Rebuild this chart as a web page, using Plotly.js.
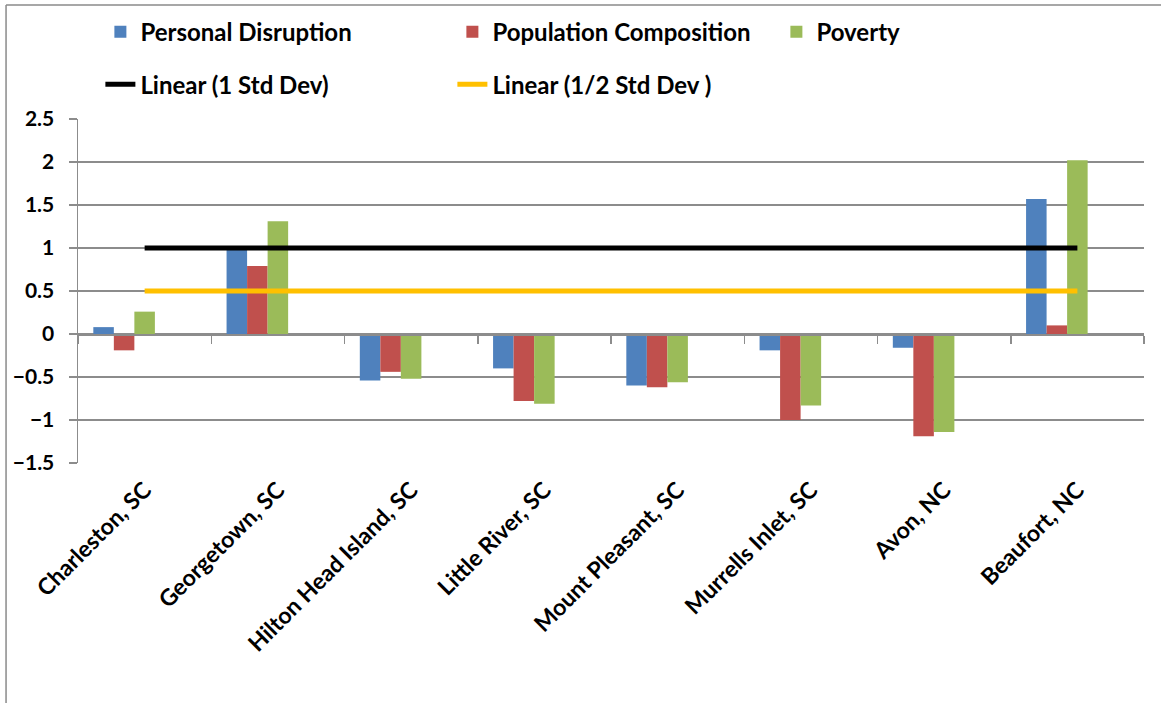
<!DOCTYPE html>
<html>
<head>
<meta charset="utf-8">
<script src="https://cdn.plot.ly/plotly-3.0.1.min.js"></script>
<style>
  html, body { margin: 0; padding: 0; background: #ffffff; }
  #chart { width: 1161px; height: 703px; }
</style>
</head>
<body>
<div id="chart"></div>
<script>
// ---- data ----
const places = ["Charleston, SC", "Georgetown, SC", "Hilton Head Island, SC", "Little River, SC",
                "Mount Pleasant, SC", "Murrells Inlet, SC", "Avon, NC", "Beaufort, NC"];
const personalDisruption    = [0.08, 0.98, -0.54, -0.40, -0.60, -0.19, -0.16, 1.57];
const populationComposition = [-0.19, 0.79, -0.44, -0.78, -0.62, -1.00, -1.19, 0.10];
const poverty               = [0.26, 1.31, -0.52, -0.81, -0.56, -0.83, -1.14, 2.02];
const oneStdDev             = [1, 1, 1, 1, 1, 1, 1, 1];
const halfStdDev            = [0.5, 0.5, 0.5, 0.5, 0.5, 0.5, 0.5, 0.5];
const seriesNames = ["Personal Disruption", "Population Composition", "Poverty",
                     "Linear (1 Std Dev)", "Linear (1/2 Std Dev )"];
const yTicks = [-1.5, -1, -0.5, 0, 0.5, 1, 1.5, 2, 2.5];
const boundaries = [-0.5, 0.5, 1.5, 2.5, 3.5, 4.5, 5.5, 6.5, 7.5];

// ---- styles ----
const FONT = "Lato, 'Open Sans', sans-serif";
const GRID = "#8c8c8c";

const traces = [
  { type: "bar", name: seriesNames[0], x: places, y: personalDisruption,
    marker: { color: "#4F81BD" }, legend: "legend", legendwidth: 307, hoverinfo: "x+y" },
  { type: "bar", name: seriesNames[1], x: places, y: populationComposition,
    marker: { color: "#C0504D" }, legend: "legend", legendwidth: 279, hoverinfo: "x+y" },
  { type: "bar", name: seriesNames[2], x: places, y: poverty,
    marker: { color: "#9BBB59" }, legend: "legend", hoverinfo: "x+y" },
  // the std-dev series are columns without fill in the source chart (they keep their slots)
  { type: "bar", name: "1 Std Dev", x: places, y: oneStdDev,
    marker: { color: "rgba(0,0,0,0)" }, showlegend: false, hoverinfo: "skip" },
  { type: "bar", name: "1/2 Std Dev", x: places, y: halfStdDev,
    marker: { color: "rgba(0,0,0,0)" }, showlegend: false, hoverinfo: "skip" },
  { type: "scatter", mode: "lines", name: seriesNames[3], x: places, y: oneStdDev,
    line: { color: "#000000", width: 5 }, legend: "legend2", legendwidth: 307 },
  { type: "scatter", mode: "lines", name: seriesNames[4], x: places, y: halfStdDev,
    line: { color: "#FFC000", width: 5 }, legend: "legend2" },
  // helper for the category axis drawn at zero
  { type: "scatter", mode: "none", x: [boundaries[0], boundaries[boundaries.length - 1]], y: [0, 0],
    xaxis: "x2", showlegend: false, hoverinfo: "skip" }
];

const layout = {
  width: 1161, height: 703,
  margin: { l: 78, r: 17, t: 119, b: 240, autoexpand: false },
  paper_bgcolor: "#ffffff", plot_bgcolor: "#ffffff",
  font: { family: FONT, size: 20, color: "#000000", weight: 700 },
  barmode: "group", bargap: 0.23, bargroupgap: 0,
  xaxis: {
    type: "category", categoryarray: places, range: [-0.5, 7.5], automargin: false,
    tickangle: -45, showgrid: false, zeroline: false, showline: false, ticks: "",
    ticklabelstandoff: 8,
    tickfont: { family: FONT, size: 23, weight: 700, color: "#000" }
  },
  xaxis2: {
    overlaying: "x", anchor: "free", position: 0.375, range: [-0.5, 7.5], automargin: false,
    tickmode: "array", tickvals: boundaries, ticks: "outside", ticklen: 8, tickwidth: 1.5,
    tickcolor: GRID, showticklabels: false, showgrid: false, zeroline: false,
    showline: true, linecolor: GRID, linewidth: 1.5
  },
  yaxis: {
    range: [-1.5, 2.5], tickmode: "array", tickvals: yTicks, automargin: false,
    showgrid: true, gridcolor: GRID, gridwidth: 1.5,
    zeroline: true, zerolinecolor: GRID, zerolinewidth: 1.5,
    showline: true, linecolor: GRID, linewidth: 1.5,
    ticks: "outside", ticklen: 8, tickwidth: 1.5, tickcolor: GRID,
    ticklabelstandoff: 10,
    tickfont: { family: FONT, size: 21, weight: 700, color: "#000" }
  },
  legend: {
    orientation: "h", x: 0.021, xanchor: "left", y: 1.318, yanchor: "top",
    font: { family: FONT, size: 24, weight: 700, color: "#000" },
    bgcolor: "rgba(0,0,0,0)", traceorder: "normal"
  },
  legend2: {
    orientation: "h", x: 0.021, xanchor: "left", y: 1.165, yanchor: "top",
    font: { family: FONT, size: 24, weight: 700, color: "#000" },
    bgcolor: "rgba(0,0,0,0)", traceorder: "normal"
  },
  shapes: [
    { type: "line", xref: "paper", yref: "paper", x0: -0.0675, x1: 1.02, y0: 1.3314, y1: 1.3314,
      line: { color: "#8a8a8a", width: 1.5 } },
    { type: "line", xref: "paper", yref: "paper", x0: -0.0675, x1: -0.0675, y0: 1.3314, y1: -0.71,
      line: { color: "#8a8a8a", width: 1.5 } }
  ],
  showlegend: true
};

Plotly.newPlot("chart", traces, layout, { displayModeBar: false, staticPlot: true });
</script>
</body>
</html>
